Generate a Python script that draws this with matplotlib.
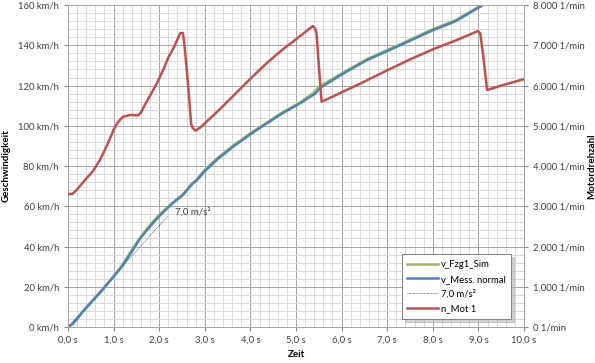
import numpy as np
import matplotlib
matplotlib.use("Agg")
import matplotlib.pyplot as plt
from matplotlib.ticker import MultipleLocator, FuncFormatter

plt.rcParams['font.family'] = ['Lato', 'DejaVu Sans']

# Messung / Simulation
t_mess = [0, 0.1, 0.2, 0.3, 0.5, 0.7, 1.0, 1.2, 1.4, 1.58, 1.8, 2.02, 2.3, 2.52,
          2.7, 2.83, 3.0, 3.3, 3.62, 4.0, 4.36, 4.7, 5.09, 5.42, 5.53, 6.0, 6.56,
          7.28, 8.0, 8.5, 9.1, 9.2]
v_mess = [0, 1.5, 4, 7, 12, 17, 25, 30.5, 37.5, 44, 50, 55.6, 61.6, 65.6,
          70.5, 73, 77.5, 83.8, 89.6, 95.8, 101.2, 106.2, 111.2, 116, 118.8, 125.5, 132.7,
          140, 147.5, 152, 160, 161.2]
t_sim = [0, 0.1, 0.2, 0.3, 0.5, 0.7, 1.0, 1.2, 1.4, 1.6, 1.8, 2.0, 2.3, 2.52,
         2.7, 2.83, 3.0, 3.3, 3.62, 4.0, 4.36, 4.7, 5.09, 5.4, 5.5, 6.0, 6.56,
         7.28, 8.0, 8.5, 9.07, 9.2]
v_sim = [0, 1.6, 4.2, 7.1, 12.2, 17.2, 25.3, 31.2, 38.3, 45, 50.8, 55.8, 61.9, 65.9,
         70.9, 73.6, 78.2, 84.4, 90.2, 96.3, 101.6, 106.6, 111.6, 116.6, 119.4, 126, 133.2,
         140.5, 148, 152.5, 160, 162]

# Motordrehzahl
t_mot = [0.0, 0.1, 0.2, 0.37, 0.55, 0.7, 0.85, 1.0, 1.1, 1.2, 1.36, 1.54, 1.6,
         1.7, 1.8, 1.95, 2.1, 2.2, 2.3, 2.4, 2.46, 2.52, 2.55, 2.62, 2.7, 2.73,
         2.8, 2.9, 3.0, 3.3, 3.62, 4.0, 4.36, 4.7, 5.09, 5.3, 5.37, 5.42, 5.45,
         5.5, 5.56, 5.62, 6.0, 6.5, 7.0, 7.28, 7.5, 8.0, 8.5, 8.99, 9.04, 9.1,
         9.19, 9.5, 10.0]
n_mot = [3300, 3310, 3420, 3650, 3880, 4150, 4500, 4900, 5100, 5220, 5270, 5260, 5330,
         5550, 5750, 6060, 6420, 6700, 6900, 7150, 7300, 7310, 7050, 6200, 5050, 4950,
         4880, 4960, 5060, 5380, 5740, 6170, 6560, 6890, 7230, 7420, 7480, 7420, 7300,
         6500, 5600, 5630, 5830, 6100, 6380, 6530, 6650, 6900, 7120, 7355, 7300, 6800,
         5890, 6000, 6160]

# Referenzbeschleunigung 7,0 m/s²
t_ref = [0, 2.2]
v_ref = [0, 7.0 * 3.6 * 2.2]

fig = plt.figure(figsize=(5.95, 3.63), dpi=100)
ax = fig.add_axes([0.1143, 0.0992, 0.7664, 0.8868])
ax2 = ax.twinx()

ax.plot(t_sim, v_sim, color='#9BBB59', lw=1.8, label='v_Fzg1_Sim', zorder=3)
ax.plot(t_mess, v_mess, color='#4F81BD', lw=1.8, label='v_Mess. normal', zorder=4)
ax.plot(t_ref, v_ref, color='#404040', lw=0.5, ls=(0, (1, 1)), label='7,0 m/s²', zorder=3)
ax2.plot(t_mot, n_mot, color='#C0504D', lw=1.8, zorder=5)
ax.plot([], [], color='#C0504D', lw=1.8, label='n_Mot 1')

ax.text(2.35, 57, '7,0 m/s²', fontsize=7, color='#404040', va='center')

ax.set_xlim(0, 10)
ax.set_ylim(0, 160)
ax2.set_ylim(0, 8000)
ax.xaxis.set_major_locator(MultipleLocator(1))
ax.xaxis.set_minor_locator(MultipleLocator(0.2))
ax.yaxis.set_major_locator(MultipleLocator(20))
ax.yaxis.set_minor_locator(MultipleLocator(4))
ax2.yaxis.set_major_locator(MultipleLocator(1000))

ax.xaxis.set_major_formatter(FuncFormatter(lambda x, p: f"{x:.1f} s".replace('.', ',')))
ax.yaxis.set_major_formatter(FuncFormatter(lambda y, p: f"{y:.0f} km/h"))
ax2.yaxis.set_major_formatter(FuncFormatter(lambda y, p: f"{y:,.0f} 1/min".replace(',', '.')))

ax.grid(which='major', color='#a6a6a6', lw=0.7)
ax.grid(which='minor', color='#d9d9d9', lw=0.7)
ax.set_axisbelow(True)

for a in (ax, ax2):
    a.tick_params(which='major', labelsize=6.8, length=3, color='#888888', labelcolor='#404040')
    a.tick_params(which='minor', length=0)
    for s in a.spines.values():
        s.set_color('#a6a6a6')
        s.set_linewidth(0.7)

ax.set_xlabel('Zeit', fontsize=7, fontweight='bold')
ax.xaxis.set_label_coords(0.5, -0.07)
ax.set_ylabel('Geschwindigkeit', fontsize=7, fontweight='bold')
ax.yaxis.set_label_coords(-0.125, 0.5)
ax2.set_ylabel('Motordrehzahl', fontsize=7, fontweight='bold', rotation=90)
ax2.yaxis.set_label_coords(1.138, 0.5)

leg = ax.legend(loc='lower right', bbox_to_anchor=(0.982, 0.01), fontsize=6.8, frameon=True,
                fancybox=False, shadow={'color': '#b0b0b0', 'alpha': 0.6}, handlelength=3.2,
                handletextpad=0.3, labelspacing=0.6, borderpad=0.6, edgecolor='#808080')
leg.get_frame().set_linewidth(0.7)
leg.set_zorder(10)

fig.savefig('out.png', dpi=100)
